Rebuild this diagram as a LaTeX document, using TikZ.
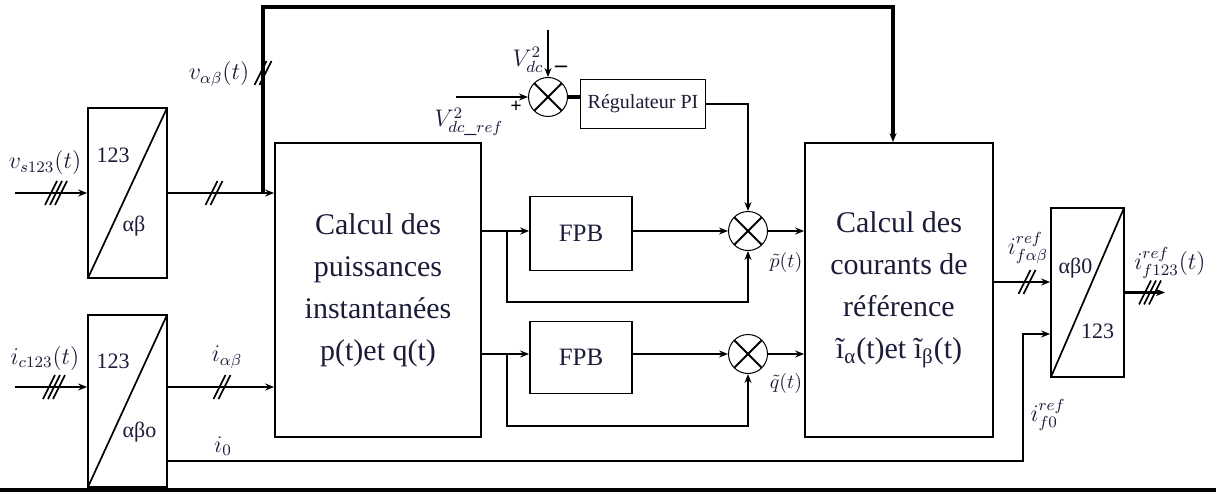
\documentclass[tikz,border=0pt]{standalone}
\usepackage{fontspec}
\setmainfont{Liberation Serif}
\usetikzlibrary{arrows.meta}
\definecolor{ink}{HTML}{1B1B3A}

\begin{document}
\begin{tikzpicture}[x=0.5pt,y=-0.5pt,>={Stealth[length=4.5pt,width=3.5pt]},
	box/.style={draw,line width=0.85pt,inner sep=0pt,text=ink},
	conv/.style={box,minimum width=39.5pt,minimum height=85pt,
		path picture={\draw[line width=0.85pt] (path picture bounding box.south west)--(path picture bounding box.north east);}},
	sum/.style={draw,circle,line width=0.5pt,minimum size=19.5pt,inner sep=0pt,
		path picture={\draw[line width=0.9pt] (path picture bounding box.center) +(45:10pt)--+(225:10pt) +(135:10pt)--+(-45:10pt);}},
	sig/.style={line width=1.3pt},
	lab/.style={text=ink,inner sep=0.5pt,font=\fontsize{12}{14}\selectfont}]
	\useasboundingbox (0,0) rectangle (1216,492);
	\path
	(15,193) coordinate (vs)
	(15,387) coordinate (ic)
	(263,193) coordinate (j)
	(893,7) coordinate (top)
	(456,97) coordinate (vref)
	(548,30) coordinate (vdc)
	(507,231) coordinate (b1)
	(507,354) coordinate (b2)
	(1023,461) coordinate (i0)
	(1023,334) coordinate (f0)
	(1000,282) coordinate (fab)
	(1165,292.5) coordinate (out)
	;
	% blocs
	\node[conv] (T1) at (127.5,193) {};
	\node[conv,minimum height=86pt] (T2) at (127.5,401) {};
	\node[conv,minimum width=36.5pt,minimum height=84.5pt] (T3) at (1087.5,292.5) {};
	\node[box,minimum width=103pt,minimum height=147pt,align=center,font=\fontsize{15}{21}\selectfont] (P) at (378,290)
		{Calcul des\\puissances\\instantanées\\p(t)et q(t)};
	\node[box,minimum width=94pt,minimum height=147pt,align=center,font=\fontsize{15}{21}\selectfont] (R) at (899,290)
		{Calcul des\\courants de\\référence\\ĩ\textsubscript{α}(t)et ĩ\textsubscript{β}(t)};
	\node[box,minimum width=51pt,minimum height=37pt,font=\fontsize{12.5}{14}\selectfont] (F1) at (581,233.5) {FPB};
	\node[box,minimum width=51pt,minimum height=36pt,font=\fontsize{12.5}{14}\selectfont] (F2) at (581,357.5) {FPB};
	\node[box,minimum width=62.5pt,minimum height=24.5pt,font=\fontsize{10}{12}\selectfont] (PI) at (643,104) {Régulateur PI};
	\node[sum] (S0) at (548,97) {};
	\node[sum] (S1) at (748,231) {};
	\node[sum] (S2) at (748,354) {};
	\foreach \b/\n/\dx/\dy/\t in {T1/a/-14.5/-38/123, T1/b/6.5/33/αβ, T2/a/-14.5/-40/123, T2/b/12/31/αβo, T3/a/-12/-24/αβ0, T3/b/10/39/123}
		\node[text=ink,font=\fontsize{11}{13}\selectfont] (\b\n) at ([shift={(\dx,\dy)}]\b) {\t};
	% liaisons
	\draw[sig,->] (vs) -- (T1.west);
	\draw[sig,->] (T1.east) -- (T1.east -| P.west);
	\draw[line width=1.6pt,->] (j) -- (j |- top) -- (top) -- (top |- R.north);
	\draw[sig,->] (ic) -- (ic -| T2.west);
	\draw[sig,->] (T2.east |- ic) -- (ic -| P.west);
	\draw[sig,->] (T2.east |- i0) -- (i0) -- (f0) -- (f0 -| T3.west);
	\draw[sig,->] (vref) -- (S0.west);
	\draw[line width=0.9pt,->] (vdc) -- (S0.north);
	\draw[line width=2pt] (S0.east) -- (S0 -| PI.west);
	\draw[sig,->] (PI.east) -| (S1.north);
	\foreach \f/\s/\b/\y in {F1/S1/b1/302, F2/S2/b2/426}{
		\draw[sig,->] (P.east |- \s) -- (\s -| \f.west);
		\draw[sig,->] (\f.east |- \s) -- (\s.west);
		\draw[sig,->] (\b) -- (\b |- 0,\y) -| (\s.south);
		\draw[sig,->] (\s.east) -- (\s -| R.west);
	}
	\draw[sig,->] (fab -| R.east) -- (fab -| T3.west);
	\draw[sig,->] (T3.east) -- (out);
	\foreach \x/\y/\n in {56/193/3, 214/193/2, 263/73/2, 54/387/3, 222/387/2, 1027/282/2, 1150/292.5/3}
		\foreach \k in {1,...,\n}
			\draw[line width=0.8pt] ({\x+5*(\k-(\n+1)/2)-6},{\y+12}) -- ++(12,-24);
	% etiquettes
	\foreach \n/\x/\y/\t in {Lvs/45/163/{$v_{s123}(t)$}, Lvab/219/74/{$v_{\alpha\beta}(t)$}, Lic/45/358/{$i_{c123}(t)$},
		Liab/227/357/{$i_{\alpha\beta}$}, Li0/223/446/{$i_0$}, Lvdc/528/60/{$V_{dc}^2$}, Lvref/469/122/{$V_{dc\_ref}^2$},
		Lfab/1028/248/{$i_{f\alpha\beta}^{ref}$}, Lf0/1048/415/{$i_{f0}^{ref}$}, Lout/1170/263/{$i_{f123}^{ref}(t)$}}
		\node[lab] (\n) at (\x,\y) {\t};
	\node[lab,font=\fontsize{10}{12}\selectfont] (Lp) at (786,262) {$\tilde p(t)$};
	\node[lab,font=\fontsize{10}{12}\selectfont] (Lq) at (786,383) {$\tilde q(t)$};
	\node[inner sep=0pt,font=\large\bfseries] (Lm) at (561,69) {–};
	\node[inner sep=0pt,font=\bfseries] (Lpl) at (516,107) {+};
	\draw[line width=2pt] (0,490) -- (1216,490);
\end{tikzpicture}
\end{document}
